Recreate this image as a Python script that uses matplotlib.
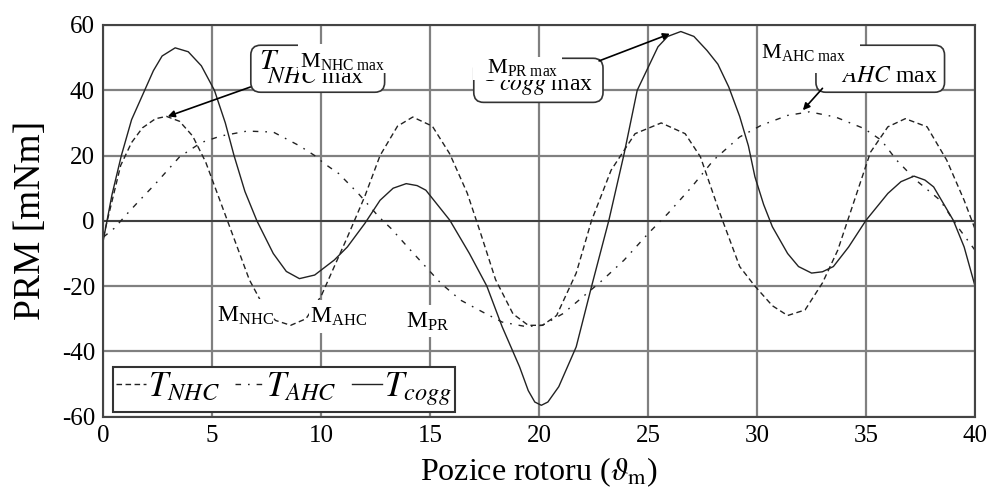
import numpy as np
import matplotlib
matplotlib.use('Agg')
import matplotlib.pyplot as plt
from matplotlib.patches import FancyBboxPatch, Rectangle

plt.rcParams['font.family'] = ['Liberation Serif', 'DejaVu Serif']
plt.rcParams['mathtext.fontset'] = 'stix'
plt.rcParams['axes.unicode_minus'] = False

# T_NHC (carkovana)
x_nhc = [0, 0.4, 0.8, 1.3, 1.8, 2.4, 2.9, 3.5, 4.1, 4.7, 5.2, 5.7, 6.2, 6.7, 7.3, 7.9,
         8.6, 9.3, 10.0, 10.6, 11.2, 12.0, 12.7, 13.5, 14.2, 15.1, 15.9, 16.7, 17.3,
         18.0, 18.8, 19.5, 20.15, 20.8, 21.7, 22.4, 23.3, 24.4, 25.6, 26.7, 27.4,
         28.3, 29.2, 29.9, 30.7, 31.4, 32.2, 33.0, 33.7, 34.5, 35.2, 36.0, 36.8,
         37.8, 38.7, 39.5, 40]
y_nhc = [-5, 6, 17, 24, 28.5, 31.3, 32, 30.5, 26, 18, 9, 0, -9, -18, -25.5, -30.5,
         -32, -30, -23, -14, -5, 7.5, 20, 29, 31.8, 29, 20.5, 8.5, -3.5,
         -18, -28.5, -32, -32, -29, -16, 0, 15.5, 26.7, 30, 26.7, 19.6,
         2.2, -14, -20, -26, -29, -27.3, -19, -9, 7, 21, 28.8, 31.3,
         28.8, 18.6, 6.3, -2.5]

# T_AHC (cerchovana)
x_ahc = [0, 0.5, 1.1, 1.6, 2.4, 3.5, 4.5, 5.4, 6.6, 7.8, 9.0, 9.7, 10.15, 10.8, 11.7,
         12.65, 13.2, 14.1, 15.5, 16.4, 17.4, 18.3, 19.4, 20.15, 21.1, 22.0, 22.9,
         23.9, 25.0, 25.9, 27.0, 28.0, 29.2, 30.2, 31.4, 32.4, 33.6, 34.9, 35.7,
         36.4, 37.3, 38.4, 39.2, 40]
y_ahc = [-5, -2.3, 2.2, 5.8, 11.4, 19.6, 24, 26, 27.5, 27.2, 23, 20, 17.5, 14.5, 8.4,
         1.2, -2.3, -9, -19.2, -24.3, -27.9, -31, -32.4, -32, -28.4, -23.3, -18.2,
         -12, -3.9, 2.2, 10.4, 18.6, 25.7, 29.3, 32.3, 33.4, 31.8, 28.3, 24.7,
         18.6, 12.4, 6.3, -1.8, -9]

# T_cogg (plna)
x_cog = [0, 0.4, 0.83, 1.3, 1.9, 2.3, 2.7, 3.3, 3.9, 4.5, 5.1, 5.6, 6.0, 6.5, 7.05,
         7.8, 8.4, 9.0, 9.7, 10.6, 11.2, 12.0, 12.7, 13.3, 13.9, 14.4, 14.8, 15.9,
         16.8, 17.6, 18.3, 19.1, 19.5, 19.8, 20.1, 20.4, 20.9, 21.7, 22.4, 23.2,
         23.9, 24.5, 25.45, 25.9, 26.5, 27.1, 27.7, 28.2, 28.7, 29.2, 29.6, 29.9,
         30.3, 30.7, 31.4, 31.9, 32.5, 33.0, 33.5, 34.2, 35.0, 36.0, 36.6, 37.2,
         37.7, 38.1, 39.0, 39.5, 40]
y_cog = [-6, 8, 20, 31, 40, 46, 50.5, 53, 51.8, 47.5, 40, 30, 20, 9, 0,
         -10, -15.5, -17.7, -16.6, -12, -8, -0.8, 6.3, 10, 11.4, 10.8, 9.4, 0.2,
         -10, -20, -32.4, -44.7, -52, -55.5, -56.5, -55.5, -50.8, -38.6, -20.2, 0.2,
         20.6, 40, 53.3, 56.5, 58, 56.5, 52.2, 48, 41, 32, 23, 13.5,
         5, -1.8, -10, -14, -16, -15.6, -14, -8, 0.2, 8.4, 12, 13.7,
         12.5, 10.4, 0.2, -8, -20]

xticks = [0, 5, 10, 15, 20, 25, 30, 35, 40]
yticks = [-60, -40, -20, 0, 20, 40, 60]

fig = plt.figure(figsize=(9.91, 4.91), dpi=100)
ax = fig.add_axes([0.1042, 0.1513, 0.8797, 0.7978])

ink = '#222222'
ax.plot(x_nhc, y_nhc, color=ink, lw=1.0, dashes=(4, 2.5), label=r'$T_{NHC}$')
ax.plot(x_ahc, y_ahc, color=ink, lw=1.0, dashes=(4, 5, 1.2, 5), label=r'$T_{AHC}$')
ax.plot(x_cog, y_cog, color=ink, lw=1.0, label=r'$T_{cogg}$')

ax.set_xlim(0, 40)
ax.set_ylim(-60, 60)
ax.set_xticks(xticks)
ax.set_yticks(yticks)
ax.grid(True, color='#808080', lw=1.6)
ax.set_axisbelow(True)
ax.axhline(0, color='#333333', lw=1.2, zorder=1)
for s in ax.spines.values():
    s.set_color('#444444')
    s.set_linewidth(1.5)
ax.tick_params(length=0, labelsize=18, pad=6)
ax.set_xlabel('Pozice rotoru ($\\vartheta_{\\mathrm{m}}$)', fontsize=23, labelpad=6)
ax.set_ylabel('PRM [mNm]', fontsize=27, labelpad=10)

leg = ax.legend(loc='lower left', bbox_to_anchor=(0.011, 0.013), ncol=3, fontsize=25,
                handlelength=0.85, handletextpad=0.05, columnspacing=0.45,
                borderpad=0.1, borderaxespad=0, fancybox=False, framealpha=1)
leg.get_frame().set_edgecolor('#333333')
leg.get_frame().set_linewidth(1.5)

# puvodni ramecky
boxes = [(6.77, 39.4, 12.91, 53.8), (17.0, 36.3, 22.93, 49.8), (32.7, 39.4, 38.6, 53.8)]
for x0, y0, x1, y1 in boxes:
    p = FancyBboxPatch((x0, y0), x1 - x0, y1 - y0,
                       boxstyle='round,pad=0,rounding_size=0.45', mutation_aspect=6.7,
                       fc='white', ec='#333333', lw=1.2, zorder=5)
    ax.add_patch(p)

# puvodni texty v rameccich (T a index zvlast)
box_t = [(7.13, 46.4), (17.42, 42.8), (33.08, 47.05)]
box_sub = [(7.5, 42.1, r'$NHC$ max'), (18.15, 40.1, r'$cogg$ max'), (33.85, 42.4, r'$AHC$ max')]
for tx, ty in box_t:
    ax.text(tx, ty, r'$T$', fontsize=21, ha='left', va='baseline', zorder=6)
for tx, ty, txt in box_sub:
    ax.text(tx, ty, txt, fontsize=17, ha='left', va='baseline', zorder=6)

arrow = dict(arrowstyle='-|>', color='k', lw=1.2, mutation_scale=10, shrinkA=0, shrinkB=0)
ax.annotate('', xy=(2.96, 32), xytext=(6.75, 41), zorder=7, arrowprops=arrow)
ax.annotate('', xy=(26.0, 57.3), xytext=(22.75, 49), zorder=7, arrowprops=arrow)
ax.annotate('', xy=(32.1, 33.9), xytext=(33.0, 40.6), zorder=7, arrowprops=arrow)

# prelepene nove popisky
covers = [(8.95, 45.2, 13.5, 54.1), (16.96, 43.1, 21.06, 50.3), (30.12, 45.2, 34.72, 59.0),
          (5.17, -34.1, 7.72, -24.0), (9.45, -34.4, 12.0, -24.3), (13.82, -35.6, 15.96, -25.8)]
for x0, y0, x1, y1 in covers:
    ax.add_patch(Rectangle((x0, y0), x1 - x0, y1 - y0, fc='white', ec='none', zorder=8, clip_on=False))

labels = [(9.04, 47.0, r'M$_{\mathregular{NHC\ max}}$', 16),
          (17.6, 45.2, r'M$_{\mathregular{PR\ max}}$', 16),
          (30.2, 49.8, r'M$_{\mathregular{AHC\ max}}$', 16),
          (5.22, -31.0, r'M$_{\mathregular{NHC}}$', 17),
          (9.5, -31.3, r'M$_{\mathregular{AHC}}$', 17),
          (13.87, -32.8, r'M$_{\mathregular{PR}}$', 17)]
for tx, ty, txt, fs in labels:
    ax.text(tx, ty, txt, fontsize=fs, ha='left', va='baseline', zorder=9)

fig.savefig('out.png', dpi=100)
